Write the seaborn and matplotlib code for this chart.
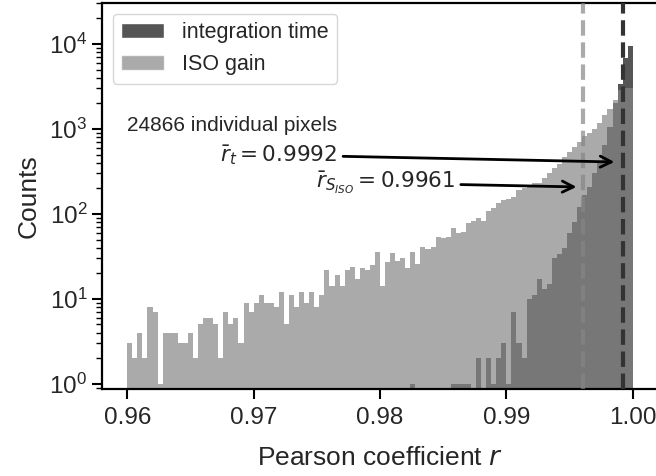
import numpy as np
import pandas as pd
import matplotlib
matplotlib.use("Agg")
import matplotlib.pyplot as plt
import seaborn as sns
from matplotlib.patches import Patch

# histogram binning of the Pearson coefficient
r_min, r_max, n_bins = 0.96, 1.0, 100

# counts per bin, ISO gain series
iso_counts = [
    3, 2, 4, 2, 8, 7, 1, 4, 4, 4,
    3, 3, 4, 2, 5, 6, 6, 5, 2, 7,
    5, 6, 3, 9, 7, 9, 11, 9, 9, 8,
    12, 5, 11, 8, 12, 9, 12, 8, 11, 22,
    14, 19, 14, 22, 24, 17, 23, 22, 25, 36,
    14, 27, 35, 28, 30, 23, 36, 26, 41, 39,
    41, 53, 52, 53, 68, 59, 62, 79, 83, 89,
    83, 109, 117, 134, 146, 150, 158, 190, 200, 208,
    233, 233, 262, 300, 343, 392, 470, 540, 620, 700,
    820, 900, 1000, 1170, 1450, 1740, 2200, 2900, 3000, 3000,
]

# counts per bin, integration time series
time_counts = [
    0, 0, 0, 0, 0, 0, 0, 0, 0, 0,
    0, 0, 0, 0, 0, 0, 0, 0, 0, 0,
    0, 0, 0, 0, 0, 0, 0, 0, 0, 0,
    0, 0, 0, 0, 0, 0, 0, 0, 0, 0,
    0, 0, 0, 0, 0, 0, 0, 0, 0, 0,
    0, 0, 0, 0, 0, 0, 1, 0, 0, 0,
    0, 0, 0, 0, 1, 1, 1, 1, 0, 2,
    0, 2, 1, 2, 3, 1, 7, 3, 2, 10,
    11, 17, 13, 15, 30, 34, 40, 60, 81, 122,
    167, 210, 300, 394, 650, 1060, 2000, 3400, 6800, 9600,
]

mean_time = 0.9992
mean_iso = 0.9961
n_pixels = 24866

sns.set_theme(style="ticks")
plt.rcParams["font.family"] = ["Liberation Sans", "DejaVu Sans"]
plt.rcParams["mathtext.fontset"] = "dejavusans"

fig = plt.figure(figsize=(6.56, 4.76), dpi=100)
ax = fig.add_axes([102 / 656, 87 / 476, 556 / 656, 386 / 476])
ax.set_yscale("log")

# one sample per counted pixel, placed at its bin centre
edges = np.linspace(r_min, r_max, n_bins + 1)
centers = (edges[:-1] + edges[1:]) / 2
time_r = pd.Series(np.repeat(centers, time_counts), name="r")
iso_r = pd.Series(np.repeat(centers, iso_counts), name="r")

sns.histplot(x=time_r, bins=n_bins, binrange=(r_min, r_max),
             color="#555555", alpha=1.0, linewidth=0, ax=ax, zorder=1)
sns.histplot(x=iso_r, bins=n_bins, binrange=(r_min, r_max),
             color="#868686", alpha=0.7, linewidth=0, ax=ax, zorder=2)

ax.axvline(mean_iso, color="#868686", alpha=0.7, ls="--", lw=3, zorder=3)
ax.axvline(mean_time, color="#333333", ls="--", lw=3, zorder=3)

ax.set_xlim(0.958, 1.002)
ax.set_ylim(0.87, 3.04e4)
ax.set_xticks([0.96, 0.97, 0.98, 0.99, 1.00])
ax.set_xticklabels(["0.96", "0.97", "0.98", "0.99", "1.00"])

ax.set_xlabel(r"Pearson coefficient $r$", fontsize=19, labelpad=12)
ax.set_ylabel("Counts", fontsize=19, labelpad=6)
ax.tick_params(which="major", labelsize=17.5, length=7, width=1.5,
               color="black")
ax.tick_params(axis="x", which="major", pad=6)
ax.tick_params(which="minor", length=4, width=1, color="black")
for s in ax.spines.values():
    s.set_linewidth(1.6)
    s.set_color("black")

ax.text(0.96, 1100, f"{n_pixels} individual pixels", fontsize=15,
        ha="left", va="center")
ax.annotate(r"$\bar{r}_t = %.4f$" % mean_time, xy=(0.99855, 409),
            xytext=(0.9766, 494), ha="right", va="center", fontsize=15.5,
            arrowprops=dict(arrowstyle="->", lw=2, color="black",
                            mutation_scale=20, shrinkB=0))
ax.annotate(r"$\bar{r}_{S_{ISO}} = %.4f$" % mean_iso, xy=(0.99555, 208),
            xytext=(0.98592, 231), ha="right", va="center", fontsize=15.5,
            arrowprops=dict(arrowstyle="->", lw=2, color="black",
                            mutation_scale=20, shrinkB=0))

handles = [Patch(facecolor="#555555", label="integration time"),
           Patch(facecolor="#868686", alpha=0.7, label="ISO gain")]
ax.legend(handles=handles, loc="upper left", fontsize=15.5, frameon=True)

fig.savefig("out.png", dpi=100)
